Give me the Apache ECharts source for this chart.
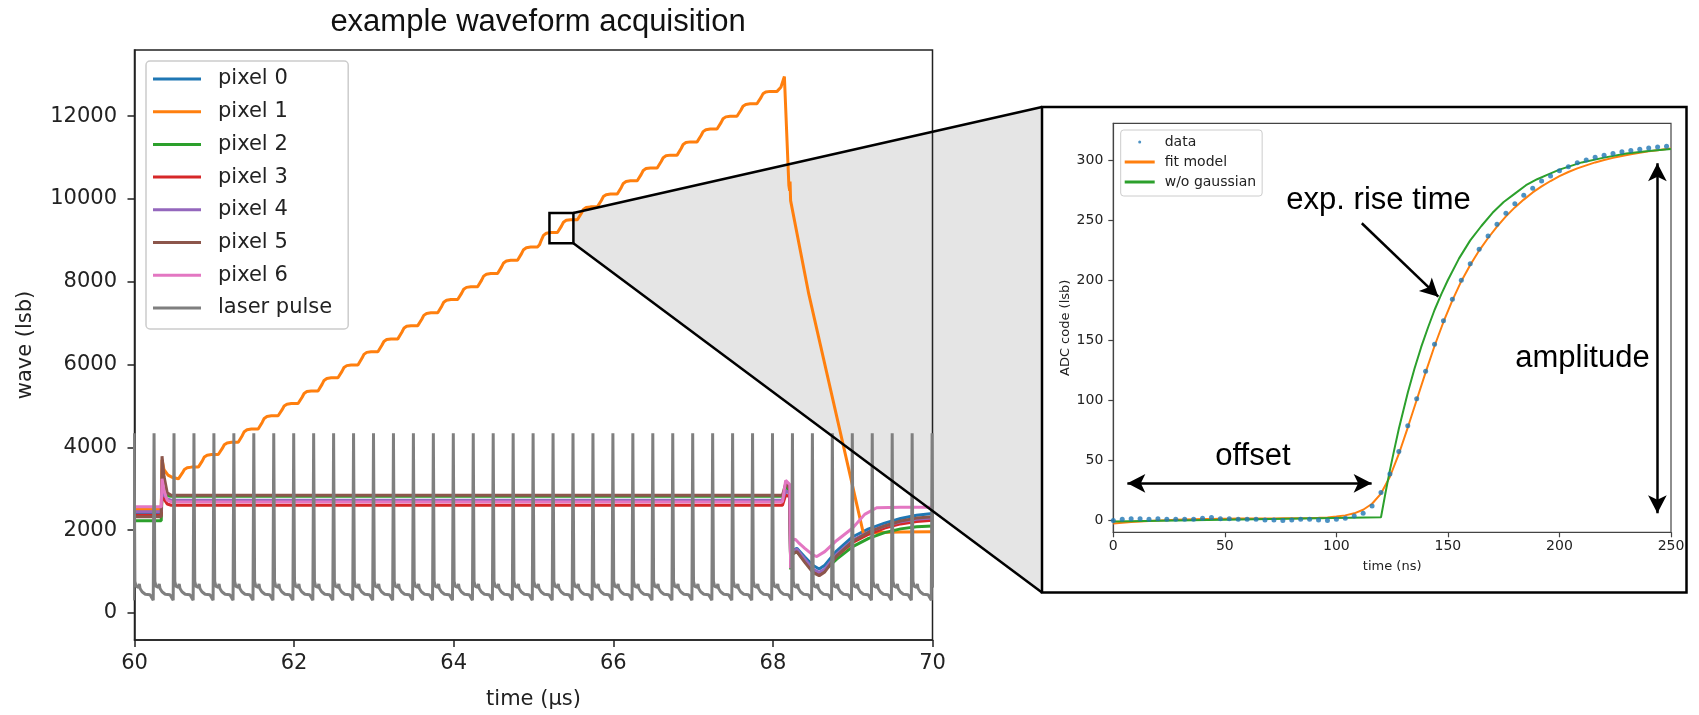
<!DOCTYPE html>
<html>
<head>
<meta charset="utf-8">
<script src="https://cdn.jsdelivr.net/npm/echarts@6/dist/echarts.min.js"></script>
<style>
html,body{margin:0;padding:0;background:#fff}
#chart{width:1699px;height:715px}
</style>
</head>
<body>
<div id="chart"></div>
<script>
// ---- main plot: example waveform acquisition (time in us, wave in lsb)
var pixelNames = ['pixel 0','pixel 1','pixel 2','pixel 3','pixel 4','pixel 5','pixel 6','laser pulse'];
var pixelColors = ['#1f77b4','#ff7f0e','#2ca02c','#d62728','#9467bd','#8c564b','#e377c2','#7f7f7f'];
var yTicks = [0,2000,4000,6000,8000,10000,12000];

var pixel0 = [[60,2420],[60.335,2420],[60.345,3000],[60.37,2850],[60.41,2740],[60.46,2710],[68.12,2710],[68.16,2950],[68.212,2900],[68.222,1150],[68.24,1500],[68.3,1560],[68.4,1350],[68.5,1150],[68.58,1060],[68.65,1150],[68.8,1500],[69.0,1840],[69.2,2030],[69.4,2170],[69.6,2280],[69.8,2360],[70,2400]];
var pixel2 = [[60,2226],[60.335,2226],[60.345,2950],[60.37,2880],[60.41,2830],[60.46,2820],[68.12,2820],[68.16,3050],[68.212,2950],[68.222,1050],[68.24,1420],[68.3,1480],[68.4,1250],[68.5,1020],[68.58,960],[68.65,1030],[68.8,1300],[69.0,1600],[69.2,1800],[69.4,1940],[69.6,2030],[69.8,2080],[70,2100]];
var pixel3 = [[60,2362],[60.335,2362],[60.345,2950],[60.37,2750],[60.41,2630],[60.46,2602],[68.12,2602],[68.16,2850],[68.212,2800],[68.222,1100],[68.24,1450],[68.3,1500],[68.4,1280],[68.5,1030],[68.58,940],[68.65,1030],[68.8,1380],[69.0,1700],[69.2,1900],[69.4,2050],[69.6,2150],[69.8,2210],[70,2240]];
var pixel4 = [[60,2442],[60.335,2442],[60.345,3000],[60.37,2850],[60.41,2750],[60.46,2722],[68.12,2722],[68.16,2950],[68.212,2900],[68.222,1150],[68.24,1480],[68.3,1540],[68.4,1300],[68.5,1060],[68.58,980],[68.65,1060],[68.8,1420],[69.0,1760],[69.2,1960],[69.4,2100],[69.6,2200],[69.8,2260],[70,2290]];
var pixel5 = [[60,2322],[60.335,2322],[60.345,3786],[60.37,3300],[60.41,2900],[60.46,2842],[68.12,2842],[68.16,3121],[68.212,3000],[68.222,1100],[68.24,1420],[68.3,1480],[68.4,1220],[68.5,980],[68.58,897],[68.65,990],[68.8,1380],[69.0,1730],[69.2,1950],[69.4,2100],[69.6,2220],[69.8,2290],[70,2320]];
var pixel6 = [[60,2562],[60.335,2562],[60.345,3242],[60.37,2950],[60.41,2720],[60.46,2682],[68.12,2682],[68.16,3202],[68.212,3100],[68.222,1080],[68.24,1750],[68.28,1780],[68.32,1700],[68.4,1560],[68.5,1400],[68.55,1361],[68.65,1480],[68.8,1750],[69.0,2050],[69.15,2380],[69.3,2540],[69.6,2555],[70,2550]];

// pixel 1: start, one plateau level after each laser pulse, then the drop
var pixel1Start = [[60,2497],[60.335,2497],[60.345,3700],[60.37,3460],[60.42,3330],[60.48,3270],[60.55,3240]];
var pixel1Levels = [3522,3826,4122,4442,4762,5058,5362,5680,5990,6310,6620,6940,7250,7570,7880,8200,8520,8840,9190,9500,9810,10120,10440,10750,11060,11380,11690,12000,12300,12600];
var pixel1End = [[68.052,12600],[68.1,12700],[68.144,12960],[68.2,10330],[68.21,10200],[68.215,10420],[68.222,9960],[68.45,7700],[68.675,5800],[69.134,1921],[69.3,1940],[69.6,1955],[70,1960]];
var stepDt = [0.055,0.08,0.105,0.13,0.165,0.22];
var stepFrac = [0,0.15,0.5,0.8,0.95,1];

// laser pulse: peak times and the shape of one pulse
var pulseTimes = [59.995,60.245,60.495,60.745,60.995,61.245,61.495,61.745,61.995,62.245,62.495,62.745,62.995,63.245,63.495,63.745,63.995,64.245,64.495,64.745,64.995,65.245,65.495,65.745,65.995,66.245,66.495,66.745,66.995,67.245,67.495,67.745,67.995,68.245,68.495,68.745,68.995,69.245,69.495,69.745,69.995];
var pulseDt = [-0.03,-0.01,0,0.01,0.025,0.055,0.065,0.075,0.1,0.14,0.2];
var pulseVal = [441,305,4340,760,640,620,700,590,510,450,441];

// zoomed region (main plot coords)
var zoomBoxTime = [65.2,65.5];
var zoomBoxWave = [8930,9660];

// ---- inset: single pulse fit (time in ns, ADC code in lsb)
var insetTicks = [0,50,100,150,200,250,300];
var timeNs = [0,4,8,12,16,20,24,28,32,36,40,44,48,52,56,60,64,68,72,76,80,84,88,92,96,100,104,108,112,116,120,124,128,132,136,140,144,148,152,156,160,164,168,172,176,180,184,188,192,196,200,204,208,212,216,220,224,228,232,236,240,244,248];
var dataAdc = [-0.5,0.5,1,1,0.5,1,0.5,0.5,0.5,0.5,1.5,2,1,1,0.5,0.5,0.5,0,0,-0.5,0,0.5,0.5,0,-0.5,0.6,1.4,3.3,5.6,11.7,22.8,38.3,57,78.6,101,124,146.4,166,184,199.7,213.6,225.6,236.7,246.4,255.6,263.6,270.6,276.4,282.5,286.7,291,294.4,297.8,300,302.2,303.9,305.5,306.9,308,309,310,310.8,311.4];
var fitTimeNs = [0,4,8,12,16,20,24,28,32,36,40,44,48,52,56,60,64,68,72,76,80,84,88,92,96,100,104,108,112,116,120,124,128,132,136,140,144,148,152,156,160,164,168,172,176,180,184,188,192,196,200,204,208,212,216,220,224,228,232,236,240,244,248,250];
var fitAdc = [-3,-2.4,-1.8,-1.3,-0.9,-0.5,-0.2,0.1,0.3,0.5,0.7,0.8,0.9,1,1.1,1.2,1.2,1.3,1.3,1.4,1.4,1.5,1.6,1.8,2.1,2.8,3.8,5.5,8.5,13.5,22,36,55,77,100,123,145,165,183,199,212.5,224.5,235,244.5,253,260.5,267,273,278,282.5,286.5,290,293,295.5,298,300,301.8,303.3,304.8,306,307.2,308.2,309.2,309.6];
var noGaussTimeNs = [0,120,122,124,126,128,130,132,135,138,141,144,147,150,155,160,165,170,175,180,185,190,195,200,210,220,230,240,250];
var noGaussAdc = [-1.4,2.2,22.5,41.5,59,76,91,106,126,144,160,175,188,200,218,233,245,256,265,272,279,284,288,292,298,302,305.5,307.6,309.2];

var insetFrame = {x:1042, y:107, w:644.5, h:485.5};

function zip(xs, ys){
	var out=[];
	for(var i=0;i<xs.length;i++){ out.push([xs[i], ys[i]]); }
	return out;
}
function plain(v){ return String(v); }

// staircase of pixel 1
var pixel1 = pixel1Start.slice();
var prev = pixel1Start[pixel1Start.length-1][1];
for(var k=0;k<pixel1Levels.length;k++){
	var tp = pulseTimes[k+2];
	for(var j=0;j<stepDt.length;j++){
		pixel1.push([tp+stepDt[j], prev+(pixel1Levels[k]-prev)*stepFrac[j]]);
	}
	prev = pixel1Levels[k];
}
pixel1 = pixel1.concat(pixel1End);

// laser pulse train
var laser=[];
for(var p=0;p<pulseTimes.length;p++){
	for(var q=0;q<pulseDt.length;q++){
		laser.push([pulseTimes[p]+pulseDt[q], pulseVal[q]]);
	}
}

var mainData = [pixel0,pixel1,pixel2,pixel3,pixel4,pixel5,pixel6,laser];

var series = mainData.map(function(d,i){
	return {
		name: pixelNames[i], type:'line', data:d,
		xAxisIndex:0, yAxisIndex:0,
		showSymbol:false, symbol:'none', clip:true,
		color: pixelColors[i],
		lineStyle:{width:3, color:pixelColors[i]}
	};
});

series.push({
	name:'data', type:'scatter', data:zip(timeNs,dataAdc),
	xAxisIndex:1, yAxisIndex:1, symbolSize:5, z:4,
	color:'#1f77b4', itemStyle:{color:'#1f77b4'}
});
series.push({
	name:'fit model', type:'line', data:zip(fitTimeNs,fitAdc),
	xAxisIndex:1, yAxisIndex:1, showSymbol:false, symbol:'none',
	color:'#ff7f0e', lineStyle:{width:2, color:'#ff7f0e'},
	markLine:{
		silent:true, animation:false,
		label:{show:false},
		lineStyle:{color:'#000', width:2.5, type:'solid'},
		symbolSize:[14,18],
		data:[
			[{coord:[6.3,30.5], symbol:'arrow'},{coord:[115.8,30.5], symbol:'arrow'}],
			[{coord:[111.4,247.3], symbol:'none'},{coord:[145.7,186.1], symbol:'arrow'}],
			[{coord:[243.9,5.6], symbol:'arrow'},{coord:[243.9,297.2], symbol:'arrow'}]
		]
	}
});
series.push({
	name:'w/o gaussian', type:'line', data:zip(noGaussTimeNs,noGaussAdc),
	xAxisIndex:1, yAxisIndex:1, showSymbol:false, symbol:'none',
	color:'#2ca02c', lineStyle:{width:2, color:'#2ca02c'}
});

var tickFont = 'DejaVu Sans';
var option = {
	animation:false,
	backgroundColor:'#fff',
	title:{
		text:'example waveform acquisition',
		left:533, top:2, textAlign:'center',
		textStyle:{fontFamily:'Liberation Sans', fontSize:31, fontWeight:'normal', color:'#111'}
	},
	legend:[{
		data:pixelNames.map(function(n){ return {name:n, icon:'rect'}; }),
		orient:'vertical', left:146, top:61,
		itemWidth:48, itemHeight:3, itemGap:10.7,
		padding:[7,16,10,7],
		borderColor:'#cccccc', borderWidth:1.5, borderRadius:4,
		backgroundColor:'rgba(255,255,255,0.8)',
		selectedMode:false,
		textStyle:{fontFamily:tickFont, fontSize:21, lineHeight:22, color:'#222', padding:[0,0,0,12]}
	},{
		data:[{name:'data', icon:'circle'},{name:'fit model', icon:'rect'},{name:'w/o gaussian', icon:'rect'}],
		orient:'vertical', left:1120.7, top:130,
		itemWidth:30, itemHeight:3, itemGap:6,
		padding:[5,6,7,4],
		borderColor:'#cccccc', borderWidth:1, borderRadius:3,
		backgroundColor:'rgba(255,255,255,0.8)',
		selectedMode:false,
		textStyle:{fontFamily:tickFont, fontSize:14, lineHeight:14, color:'#222', padding:[0,0,0,5]}
	}],
	grid:[{
		left:134.5, top:50, right:1699-932.5, bottom:715-644,
		show:true, borderColor:'#222', borderWidth:1.5, backgroundColor:'transparent'
	},{
		left:1113.3, top:123.3, right:1699-1671, bottom:715-532.3,
		show:true, borderColor:'#444', borderWidth:1.2, backgroundColor:'transparent'
	}],
	xAxis:[{
		gridIndex:0, type:'value', min:60, max:70, interval:2,
		name:'time (µs)', nameLocation:'middle', nameGap:49,
		nameTextStyle:{fontFamily:tickFont, fontSize:21, color:'#222'},
		axisLine:{onZero:false, lineStyle:{color:'#222', width:1.5}},
		axisTick:{inside:false, length:7, lineStyle:{color:'#222', width:1.5}},
		axisLabel:{fontFamily:tickFont, fontSize:21, color:'#222', margin:13, formatter:plain},
		splitLine:{show:false}
	},{
		gridIndex:1, type:'value', min:0, max:250, interval:50,
		name:'time (ns)', nameLocation:'middle', nameGap:27.7,
		nameTextStyle:{fontFamily:tickFont, fontSize:13, color:'#222'},
		axisLine:{onZero:false, lineStyle:{color:'#444', width:1.2}},
		axisTick:{length:5, lineStyle:{color:'#444', width:1.2}},
		axisLabel:{fontFamily:tickFont, fontSize:14, color:'#222', margin:7, formatter:plain},
		splitLine:{show:false}
	}],
	yAxis:[{
		gridIndex:0, type:'value', min:-655, max:13600,
		name:'wave (lsb)', nameLocation:'middle', nameGap:98,
		nameTextStyle:{fontFamily:tickFont, fontSize:21, color:'#222'},
		axisLine:{show:true, onZero:false, lineStyle:{color:'#222', width:1.5}},
		axisTick:{show:true, length:7, customValues:yTicks, lineStyle:{color:'#222', width:1.5}},
		axisLabel:{fontFamily:tickFont, fontSize:21, color:'#222', margin:17.5, customValues:yTicks, formatter:plain},
		splitLine:{show:false}
	},{
		gridIndex:1, type:'value', min:-10.3, max:330.6,
		name:'ADC code (lsb)', nameLocation:'middle', nameGap:41.5,
		nameTextStyle:{fontFamily:tickFont, fontSize:13, color:'#222'},
		axisLine:{show:true, onZero:false, lineStyle:{color:'#444', width:1.2}},
		axisTick:{show:true, length:5, customValues:insetTicks, lineStyle:{color:'#444', width:1.2}},
		axisLabel:{fontFamily:tickFont, fontSize:14, color:'#222', margin:10, customValues:insetTicks, formatter:plain},
		splitLine:{show:false}
	}],
	series:series
};

var chart = echarts.init(document.getElementById('chart'));
chart.setOption(option);

// zoom box, connector and inset annotations
var tl = chart.convertToPixel({gridIndex:0}, [zoomBoxTime[0], zoomBoxWave[1]]);
var br = chart.convertToPixel({gridIndex:0}, [zoomBoxTime[1], zoomBoxWave[0]]);
var fx = insetFrame.x, fy = insetFrame.y, fb = insetFrame.y + insetFrame.h;
function insetText(txt, coord){
	var pt = chart.convertToPixel({gridIndex:1}, coord);
	return {
		type:'text', z:10,
		style:{text:txt, x:pt[0], y:pt[1], textAlign:'center', textVerticalAlign:'middle',
			font:'31px "Liberation Sans"', fill:'#000'}
	};
}
chart.setOption({
	graphic:[
		{type:'polygon', z:-1, shape:{points:[[br[0],tl[1]],[fx,fy],[fx,fb],[br[0],br[1]]]}, style:{fill:'#e5e5e5', stroke:'none'}},
		{type:'line', z:10, shape:{x1:br[0],y1:tl[1],x2:fx,y2:fy}, style:{stroke:'#000', lineWidth:2.5}},
		{type:'line', z:10, shape:{x1:br[0],y1:br[1],x2:fx,y2:fb}, style:{stroke:'#000', lineWidth:2.5}},
		{type:'rect', z:10, shape:{x:tl[0],y:tl[1],width:br[0]-tl[0],height:br[1]-tl[1]}, style:{fill:'none', stroke:'#000', lineWidth:2.5}},
		{type:'rect', z:10, shape:{x:fx,y:fy,width:insetFrame.w,height:insetFrame.h}, style:{fill:'none', stroke:'#000', lineWidth:2.5}},
		insetText('offset', [62.6,52.75]),
		insetText('exp. rise time', [118.9,266.7]),
		insetText('amplitude', [210.3,135])
	]
});
</script>
</body>
</html>
